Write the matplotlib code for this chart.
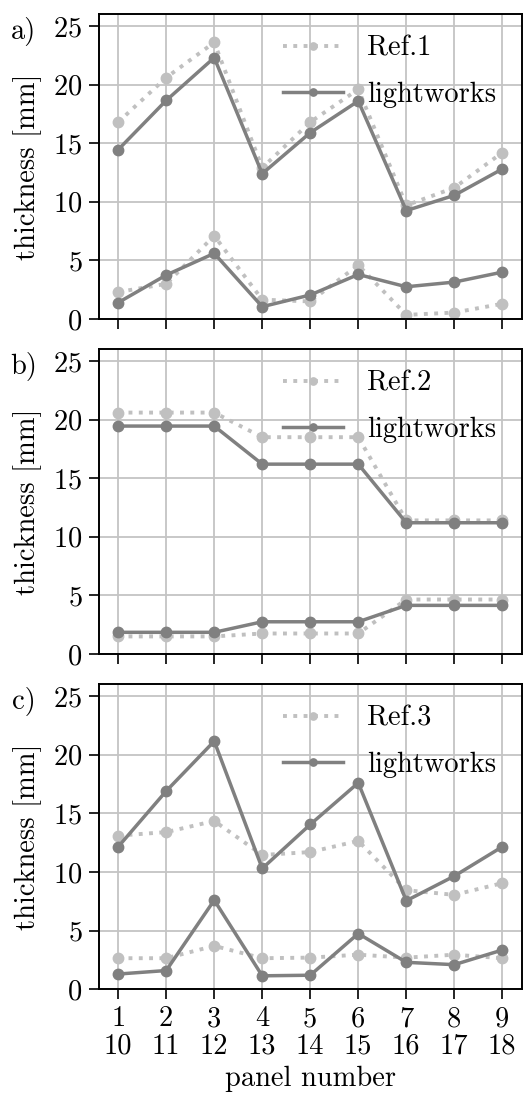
import matplotlib
matplotlib.use('Agg')
import matplotlib.pyplot as plt

# fonts: computer modern look
plt.rcParams['font.family'] = ['cmr10', 'DejaVu Serif']
plt.rcParams['axes.formatter.use_mathtext'] = True
plt.rcParams['font.size'] = 20.5

# data
panels = [1, 2, 3, 4, 5, 6, 7, 8, 9]
tick_labels = ['1\n10', '2\n11', '3\n12', '4\n13', '5\n14', '6\n15', '7\n16', '8\n17', '9\n18']
panel_tags = ['a)', 'b)', 'c)']
ref_names = ['Ref.1', 'Ref.2', 'Ref.3']

# upper / lower thickness for each reference and for lightworks
ref_upper = [
    [16.8, 20.6, 23.6, 12.9, 16.8, 19.6, 9.7, 11.2, 14.2],
    [20.6, 20.6, 20.6, 18.5, 18.5, 18.5, 11.4, 11.4, 11.4],
    [13.1, 13.4, 14.35, 11.45, 11.7, 12.65, 8.45, 8.05, 9.05],
]
ref_lower = [
    [2.3, 3.0, 7.1, 1.65, 1.5, 4.6, 0.35, 0.55, 1.3],
    [1.5, 1.5, 1.5, 1.75, 1.75, 1.75, 4.65, 4.65, 4.65],
    [2.65, 2.65, 3.7, 2.65, 2.7, 2.95, 2.7, 2.95, 2.65],
]
lw_upper = [
    [14.45, 18.65, 22.3, 12.4, 15.9, 18.6, 9.25, 10.55, 12.8],
    [19.45, 19.45, 19.45, 16.2, 16.2, 16.2, 11.2, 11.2, 11.2],
    [12.15, 16.9, 21.15, 10.3, 14.05, 17.6, 7.55, 9.65, 12.15],
]
lw_lower = [
    [1.4, 3.75, 5.6, 1.05, 2.05, 3.8, 2.75, 3.15, 4.0],
    [1.85, 1.85, 1.85, 2.75, 2.75, 2.75, 4.15, 4.15, 4.15],
    [1.3, 1.6, 7.6, 1.15, 1.2, 4.75, 2.3, 2.1, 3.35],
]

REF_COL = '#c0c0c0'
LW_COL = '#808080'
GRID_COL = '#c4c4c4'

fig = plt.figure(figsize=(5.23, 11), dpi=100)

# axes boxes in pixels: (top, bottom)
W, H = 523., 1100.
boxes = [(14.3, 319.0), (349.3, 654.0), (684.3, 989.3)]
left_px, right_px = 99.0, 521.5

for i, (top, bot) in enumerate(boxes):
    ax = fig.add_axes([left_px / W, 1 - bot / H, (right_px - left_px) / W, (bot - top) / H])
    ax.set_axisbelow(True)
    ax.grid(True, color=GRID_COL, linewidth=1.3)

    ax.plot(panels, ref_upper[i], ':', color=REF_COL, lw=2.8, marker='o', ms=7.5, label=ref_names[i])
    ax.plot(panels, lw_upper[i], '-', color=LW_COL, lw=2.5, marker='o', ms=7.5, label='lightworks')
    ax.plot(panels, ref_lower[i], ':', color=REF_COL, lw=2.8, marker='o', ms=7.5)
    ax.plot(panels, lw_lower[i], '-', color=LW_COL, lw=2.5, marker='o', ms=7.5)

    ax.set_xlim(0.6, 9.4)
    ax.set_ylim(0, 26)
    ax.set_yticks([0, 5, 10, 15, 20, 25])
    ax.set_xticks(panels)
    if i == 2:
        ax.set_xticklabels(tick_labels, linespacing=1.05)
        ax.set_xlabel('panel number', labelpad=4)
    else:
        ax.set_xticklabels([])
    ax.set_ylabel('thickness [mm]', labelpad=8)
    ax.tick_params(direction='out', length=7, width=1.2, pad=5)
    for sp in ax.spines.values():
        sp.set_linewidth(1.4)

    ax.text(-0.178, 0.945, panel_tags[i], transform=ax.transAxes, ha='center', va='center')

    ax.legend(loc='upper left', bbox_to_anchor=(0.435, 0.93), frameon=False,
              handlelength=2.1, handletextpad=0.85, labelspacing=0.7,
              borderpad=0, borderaxespad=0, markerscale=0.7)

fig.savefig('out.png', dpi=100)
